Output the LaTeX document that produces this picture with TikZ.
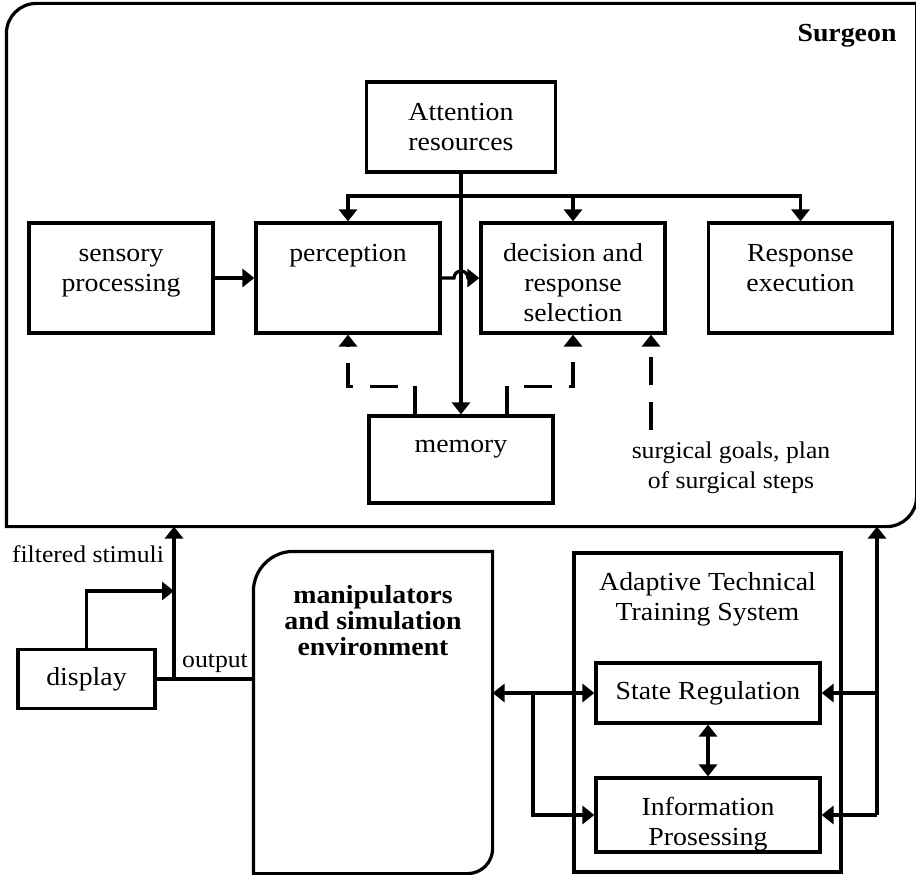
\documentclass[tikz,border=0pt]{standalone}
\usepackage{fontspec}
\setmainfont{Liberation Serif}[FakeStretch=1.07]
\usetikzlibrary{arrows.meta}
\newcommand{\dfont}{\fontsize{26}{30}\selectfont}
\newcommand{\sfont}{\fontsize{24}{30}\selectfont}

\begin{document}
\begin{tikzpicture}[x=1pt,y=-1pt,font=\dfont,line width=3.2pt,
    blk/.style={draw,inner sep=0pt},
    boxtxt/.style={align=center,inner sep=0pt,anchor=north},
    note/.style={font=\sfont},
    arr/.style={-{Triangle[length=12pt,width=18pt]}},
    arrs/.style={{Triangle[length=12pt,width=18pt]}-{Triangle[length=12pt,width=18pt]}},
    dline/.style={dash pattern=on 28pt off 17pt}]
\useasboundingbox (0,0) rectangle (916,875);

% surgeon
\node[minimum width=907pt,minimum height=520pt,inner sep=0pt,outer sep=1.6pt] (surg) at (461.5,265) {};
\draw (surg.south west) -- ([yshift=-30pt]surg.north west) arc[start angle=180,end angle=90,radius=30pt]
  -- (surg.north east) -- ([yshift=30pt]surg.south east) arc[start angle=0,end angle=-90,radius=30pt] -- cycle;
\node[font=\dfont\bfseries] (surgT) at (847,35.5) {Surgeon};

\node[blk,minimum width=189pt,minimum height=90pt,label={[boxtxt,yshift=-17pt]north:\strut Attention\\resources}] (att) at (461,127) {};
\node[blk,minimum width=184pt,minimum height=110pt,label={[boxtxt,yshift=-17pt]north:\strut sensory\\processing}] (sens) at (121,278) {};
\node[blk,minimum width=184pt,minimum height=110pt,label={[boxtxt,yshift=-17pt]north:\strut perception}] (perc) at (348,278) {};
\node[blk,minimum width=184pt,minimum height=110pt,label={[boxtxt,yshift=-17pt]north:\strut decision and\\response\\selection}] (dec) at (573,278) {};
\node[blk,minimum width=184pt,minimum height=110pt,label={[boxtxt,yshift=-17pt]north:\strut Response\\execution}] (resp) at (800.5,278) {};
\node[blk,minimum width=184pt,minimum height=87pt,label={[boxtxt,yshift=-15pt]north:\strut memory}] (mem) at (461,459.5) {};
\node[note,align=center] (goals) at (731,468) {surgical goals, plan\\of surgical steps};
\coordinate (goalsTop) at (651,430);

\coordinate (bus) at (461,196);
\draw[arr] (att.south) -- (mem.north);
\draw[arrs] (perc.north) -- (perc.north |- bus) -- (resp.north |- bus) -- (resp.north);
\draw[arr] (dec.north |- bus) -- (dec.north);
\draw[arr] (sens.east) -- (perc.west);
\draw[arr] (perc.east) -- ([xshift=-7pt]perc.east -| att.south) arc[start angle=180,end angle=0,radius=7pt] -- (dec.west);
\draw ([xshift=-46pt]mem.north) -- ++(0,-28) coordinate (ml);
\draw ([xshift=46pt]mem.north) -- ++(0,-28) coordinate (mr);
\draw[arr,dline,dash phase=28pt] (ml) -- (ml -| perc.south) -- (perc.south);
\draw[arr,dline,dash phase=28pt] (mr) -- (mr -| dec.south) -- (dec.south);
\draw[arr,dline] (goalsTop) -- (goalsTop |- dec.south);

% lower part
\node[blk,minimum width=137pt,minimum height=59pt] (display) at (86.5,679) {display};
\node[minimum width=236pt,minimum height=319pt,inner sep=0pt,outer sep=1.6pt,
  label={[boxtxt,font=\fontsize{26}{26}\selectfont\bfseries,yshift=-32pt]north:\strut manipulators\\and simulation\\environment}] (manip) at (373,712.5) {};
\draw (manip.south west) -- ([yshift=-40pt]manip.north west) arc[start angle=180,end angle=90,radius=40pt]
  -- (manip.north east) -- ([yshift=25pt]manip.south east) arc[start angle=0,end angle=-90,radius=25pt] -- cycle;
\node[blk,minimum width=267pt,minimum height=319pt,label={[boxtxt,yshift=-16pt]north:\strut Adaptive Technical\\Training System}] (ats) at (707.5,712.5) {};
\node[blk,minimum width=224pt,minimum height=60pt] (state) at (708,693) {State Regulation};
\node[blk,minimum width=224pt,minimum height=74pt,label={[boxtxt,yshift=-16pt]north:\strut Information\\Prosessing}] (info) at (708,815) {};
\node[note] (filtT) at (88,554) {filtered stimuli};
\node[note] (outT) at (215,663) {output};

\draw (display.east) -- (display.east -| manip.west);
\coordinate (ob) at (174,679);
\coordinate (fs) at (174,591);
\draw[arr] (ob) -- (ob |- surg.south);
\draw[arr] (display.north) |- (fs);
\draw[arrs] (state.west -| manip.east) -- (state.west);
\draw[arr] (state.west -| 533,0) |- (info.west);
\coordinate (rj) at (877,815);
\draw[arr] (rj) -- (rj |- surg.south);
\draw[arr] (rj |- state.east) -- (state.east);
\draw[arr] (rj) -- (info.east);
\draw[arrs] (state.south) -- (info.north);
\end{tikzpicture}
\end{document}
